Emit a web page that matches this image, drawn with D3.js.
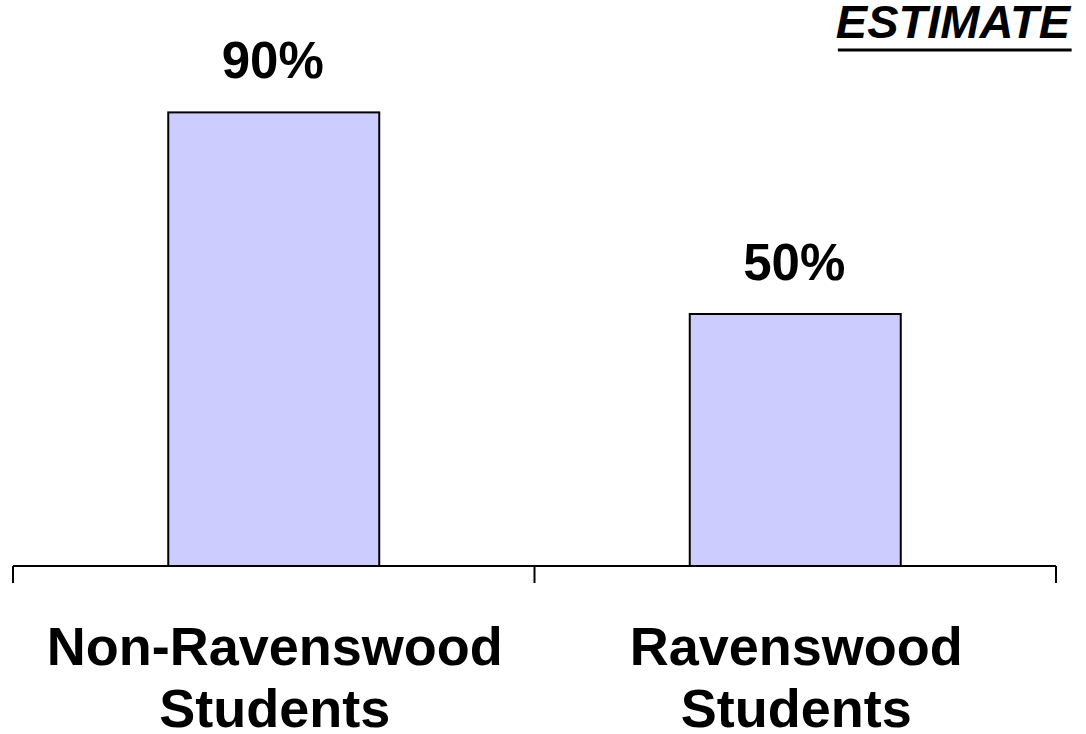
<!DOCTYPE html>
<html><head><meta charset="utf-8">
<script src="https://cdn.jsdelivr.net/npm/d3@7"></script>
<style>body{margin:0;background:#fff}svg{display:block}text{font-family:Arial,"Liberation Sans",sans-serif;font-weight:bold;fill:#000}</style>
</head><body>
<svg id="c" width="1086" height="734"></svg>
<script>
const categories = [["Non-Ravenswood","Students"],["Ravenswood","Students"]];
const values = [90, 50];
const labels = ["90%","50%"];
const note = "ESTIMATE";

const svg = d3.select("#c");
const x = d3.scaleBand().domain(d3.range(categories.length)).range([13,1056]).paddingInner(0).paddingOuter(0);
const y = d3.scaleLinear().domain([0,100]).range([566, 62]);
const bw = 211;

svg.append("line").attr("x1",13).attr("x2",1056).attr("y1",566).attr("y2",566).attr("stroke","#000").attr("stroke-width",2);
const ticks = [x.range()[0], ...categories.map((d,i)=>x(i)+x.bandwidth())];
svg.selectAll(".tk").data(ticks).join("line").attr("x1",d=>d).attr("x2",d=>d).attr("y1",566).attr("y2",583).attr("stroke","#000").attr("stroke-width",2);

svg.selectAll(".bar").data(values).join("rect")
  .attr("x",(d,i)=>x(i)+x.bandwidth()/2-bw/2).attr("width",bw)
  .attr("y",d=>y(d)).attr("height",d=>566-y(d))
  .attr("fill","#ccccff").attr("stroke","#000").attr("stroke-width",2);

svg.selectAll(".val").data(values).join("text")
  .attr("x",(d,i)=>x(i)+x.bandwidth()/2-1).attr("y",d=>y(d)-34)
  .attr("text-anchor","middle").attr("font-size",51).text((d,i)=>labels[i]);

categories.forEach((lines,i)=>{
  lines.forEach((t,j)=>{
    svg.append("text").attr("x",x(i)+x.bandwidth()/2+1).attr("y",665+j*62)
      .attr("text-anchor","middle").attr("font-size",54).text(t);
  });
});

const est = svg.append("text").attr("x",1070).attr("y",38).attr("text-anchor","end")
  .attr("font-size",47).attr("font-style","italic").text(note);
const bb = est.node().getBBox();
svg.append("line").attr("x1",bb.x+2).attr("x2",bb.x+bb.width).attr("y1",50).attr("y2",50).attr("stroke","#000").attr("stroke-width",3);
</script>
</body></html>
